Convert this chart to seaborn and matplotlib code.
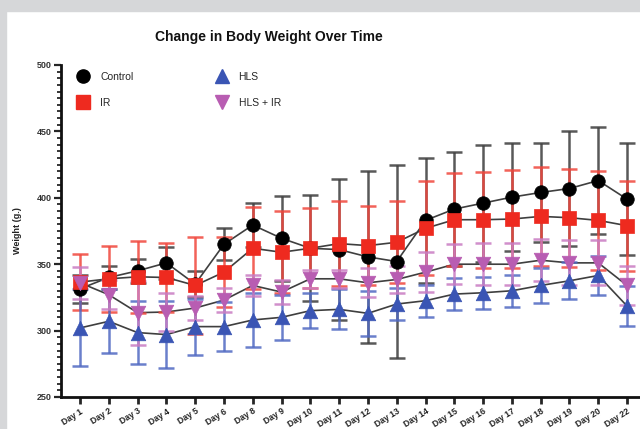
import numpy as np
import pandas as pd
import matplotlib
matplotlib.use("Agg")
import matplotlib.pyplot as plt
from matplotlib.lines import Line2D
from matplotlib.patches import Rectangle
from matplotlib.ticker import MultipleLocator
import seaborn as sns

# ---- data: mean body weight (g) and SD per group ----
days = ["Day 1", "Day 2", "Day 3", "Day 4", "Day 5", "Day 6", "Day 8", "Day 9",
        "Day 10", "Day 11", "Day 12", "Day 13", "Day 14", "Day 15", "Day 16",
        "Day 17", "Day 18", "Day 19", "Day 20", "Day 22"]

control_mean = [331.5, 340, 345, 351, 335, 365, 379.5, 369.5, 362, 361,
                355.5, 352, 383, 391.5, 396, 400.5, 404, 407, 413, 399]
control_sd = [10.5, 8.5, 9, 12, 10, 12, 16.5, 32, 40, 53,
              65, 73, 47, 43, 44, 40.5, 37.5, 43, 40.5, 42]

ir_mean = [336.5, 339, 340.5, 340, 334, 344, 362, 359, 362, 365.5,
           364, 366.5, 377, 383.5, 383.5, 384, 386, 385, 383, 379]
ir_sd = [21, 25, 27, 26, 36.5, 26.5, 31, 31, 30, 32,
         30, 31, 35.5, 35, 36, 37, 37, 37, 37, 34]

hls_mean = [302, 307, 298.5, 297, 303, 303, 308, 310, 315, 316,
            313, 320, 322.5, 327.5, 328.5, 330, 334, 337.5, 341.5, 318.5]
hls_sd = [29, 24, 24, 25, 21, 18.5, 20.5, 17, 13, 15,
          17, 12, 12, 12, 12, 12, 13, 14, 15, 15]

hlsir_mean = [336, 327, 313.5, 314, 317, 323, 334, 329, 339, 339,
              336, 338.5, 344, 350, 350, 350, 353, 351, 351, 334]
hlsir_sd = [12, 11, 24, 14, 9, 9, 8, 9, 7, 7,
            11, 10, 15, 15, 16, 16, 16, 17, 17, 14.5]

groups = ["Control", "IR", "HLS", "HLS + IR"]
means = [control_mean, ir_mean, hls_mean, hlsir_mean]
sds = [control_sd, ir_sd, hls_sd, hlsir_sd]

colors = {"Control": "#000000", "IR": "#ee2a1f", "HLS": "#3a55b4", "HLS + IR": "#b85db2"}
bar_colors = {"Control": "#3c3c3c", "IR": "#f0463c", "HLS": "#5069c2", "HLS + IR": "#c97cc2"}
markers = {"Control": "o", "IR": "s", "HLS": "^", "HLS + IR": "v"}
sizes = {"Control": 95, "IR": 95, "HLS": 110, "HLS + IR": 110}

rows = []
for g, m, s in zip(groups, means, sds):
    for i, (d, v, e) in enumerate(zip(days, m, s)):
        rows.append({"pos": i, "day": d, "group": g, "weight": v, "sd": e})
df = pd.DataFrame(rows)

# ---- figure ----
sns.set_style("ticks")
plt.rcParams["font.family"] = ["Liberation Sans", "DejaVu Sans"]

W, H = 640, 429
fig = plt.figure(figsize=(W / 100, H / 100), dpi=100)
fig.patch.set_facecolor("white")
# grey page margin along the top and left
fig.patches.append(Rectangle((0, 1 - 11 / H), 1, 11 / H, transform=fig.transFigure,
                             color="#d6d7d9", zorder=0))
fig.patches.append(Rectangle((0, 0), 6 / W, 1, transform=fig.transFigure,
                             color="#d6d7d9", zorder=0))

ax = fig.add_axes([61 / W, (H - 397) / H, (W - 61) / W, (397 - 65) / H])
ax.set_facecolor("white")

# connecting lines (dark grey for all groups)
sns.lineplot(data=df, x="pos", y="weight", units="group", estimator=None,
             color="#3f3f3f", linewidth=1.2, ax=ax, legend=False, zorder=2)

# SD error bars
for g in groups:
    sub = df[df["group"] == g]
    ax.errorbar(sub["pos"], sub["weight"], yerr=sub["sd"], fmt="none",
                ecolor=bar_colors[g], elinewidth=1.8, capsize=5.5, capthick=1.8,
                alpha=0.85, zorder=3)

# group markers
for g in groups:
    sub = df[df["group"] == g]
    sns.scatterplot(data=sub, x="pos", y="weight", color=colors[g],
                    marker=markers[g], s=sizes[g], edgecolor=colors[g],
                    linewidth=0.5, ax=ax, legend=False, zorder=4)

# axes styling
ax.set_xlim(-0.66, 19.45)
ax.set_ylim(250, 500)
ax.set_xticks(range(len(days)))
ax.set_xticklabels(days, rotation=32, ha="right", rotation_mode="anchor",
                   fontsize=6.2, fontweight="bold", color="#222222")
ax.yaxis.set_major_locator(MultipleLocator(50))
ax.yaxis.set_minor_locator(MultipleLocator(5))
for lab in ax.get_yticklabels():
    lab.set_fontsize(6.5)
    lab.set_fontweight("bold")
    lab.set_color("#333333")
ax.tick_params(axis="y", which="major", direction="out", length=5, width=1.6, pad=1.5)
ax.tick_params(axis="y", which="minor", direction="out", length=3, width=1.3)
ax.tick_params(axis="x", which="major", direction="out", length=5, width=2, pad=2)
for side in ["top", "right"]:
    ax.spines[side].set_visible(False)
for side in ["left", "bottom"]:
    ax.spines[side].set_linewidth(2)
    ax.spines[side].set_color("#111111")
ax.set_xlabel("")
ax.set_ylabel("")

# legend
handles = [Line2D([], [], linestyle="none", marker=markers[g], color=colors[g],
                  markersize=9.5) for g in groups]
ax.legend(handles, groups, ncol=2, frameon=False,
          loc="upper left", bbox_to_anchor=(12 / 579, 1 - 7 / 332),
          borderaxespad=0, borderpad=0, fontsize=7.5, labelspacing=1.55,
          columnspacing=7.5, handletextpad=0.6, handlelength=2.0)

fig.text(269 / W, 1 - 37 / H, "Change in Body Weight Over Time", ha="center",
         va="center", fontsize=10, fontweight="bold", color="#111111")
fig.text(18 / W, 1 - 231 / H, "Weight (g.)", rotation=90, ha="center",
         va="center", fontsize=6.5, fontweight="bold", color="#222222")

fig.savefig("out.png", dpi=100, facecolor=fig.get_facecolor())
